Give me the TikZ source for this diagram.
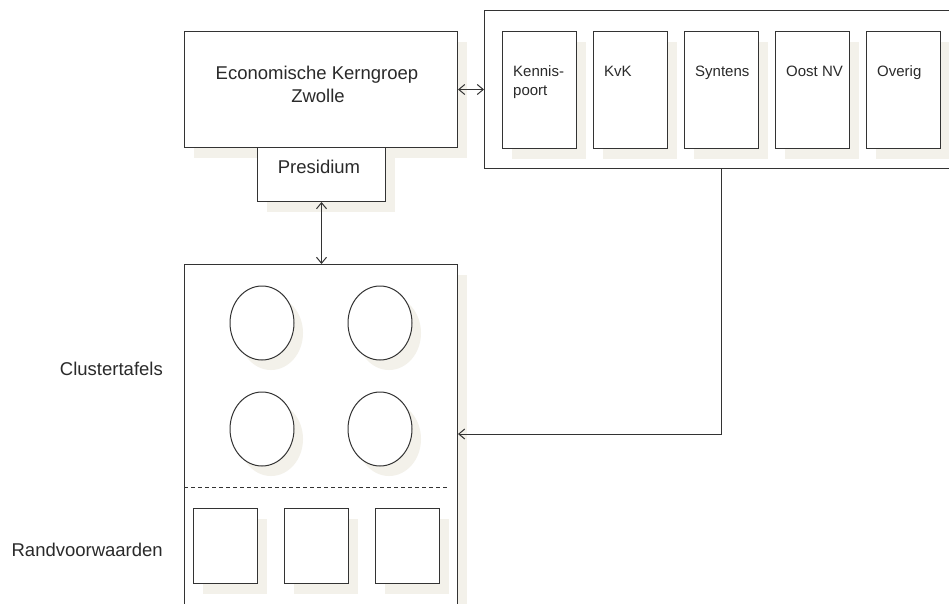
\documentclass[tikz,border=0pt]{standalone}
\usepackage{fontspec}
\setmainfont{Liberation Sans}
\usetikzlibrary{arrows.meta,shadows,shapes.geometric}
\definecolor{ln}{HTML}{333333}
\definecolor{shd}{HTML}{F3F1EA}
\definecolor{tx}{HTML}{2A2A2A}
\begin{document}
\begin{tikzpicture}[x=1pt,y=-1pt,
  shd/.style={drop shadow={shadow xshift=9pt, shadow yshift=-10pt, fill=shd, opacity=1, draw=none}},
  boxst/.style={draw=ln, line width=1pt, fill=white, rectangle, inner sep=0pt, anchor=north west},
  sbox/.style={boxst, shd},
  ell/.style={draw=ln, line width=1pt, fill=white, ellipse, inner sep=0pt, minimum width=64, minimum height=74, shd},
  big/.style={text=tx, font=\fontsize{18.5}{22}\selectfont, inner sep=0pt},
  small/.style={text=tx, font=\fontsize{15}{19}\selectfont, inner sep=0pt, anchor=base west},
  tip/.style={Straight Barb[length=6pt,width=10pt]},
  dbl/.style={draw=ln, line width=1pt, {Straight Barb[length=6pt,width=10pt]}-{Straight Barb[length=6pt,width=10pt]}},
  arr1/.style={draw=ln, line width=1pt, -{Straight Barb[length=6pt,width=10pt]}}
]
\useasboundingbox (0,0) rectangle (949,603);
\clip (0,0) rectangle (949,603);
\fill[white] (0,0) rectangle (949,603);

% top-left block
\node[sbox, minimum width=273, minimum height=116] (ekz) at (184,31) {};
\node[sbox, minimum width=128, minimum height=54] (pres) at (257,147) {};
\node[big, anchor=base] (t1) at (317,79) {Economische Kerngroep};
\node[big, anchor=base] (t2) at (318,102) {Zwolle};
\node[big, anchor=base] (t3) at (319,173) {Presidium};

% right panel
\node[boxst, minimum width=480, minimum height=158] (panel) at (484,10) {};
\foreach \x/\n in {502/a,593/b,684/c,775/d,866/e}{
  \node[sbox, minimum width=74, minimum height=117] (in\n) at (\x,31) {};
}
\node[small] (ka) at (513,76) {Kennis-};
\node[small] (kb) at (513,95) {poort};
\node[small] (kvk) at (604,76) {KvK};
\node[small] (syn) at (695,76) {Syntens};
\node[small] (oost) at (786,76) {Oost NV};
\node[small] (ov) at (877,76) {Overig};

% bottom panel
\node[sbox, minimum width=273, minimum height=360] (bot) at (184,264) {};
\node[ell] (e1) at (262,323) {};
\node[ell] (e2) at (380,323) {};
\node[ell] (e3) at (262,429) {};
\node[ell] (e4) at (380,429) {};
\draw[ln, line width=1pt, dash pattern=on 4pt off 3pt] (bot.west |- 0,487) -- (448,487);
\node[sbox, minimum width=64, minimum height=75] (s1) at (193,508) {};
\node[sbox, minimum width=64, minimum height=75] (s2) at (284,508) {};
\node[sbox, minimum width=64, minimum height=75] (s3) at (375,508) {};

\node[big, anchor=base east] (cl) at (163,375) {Clustertafels};
\node[big, anchor=base east] (rv) at (163,556) {Randvoorwaarden};

% connectors
\draw[dbl] (ekz.east) -- (panel.west |- ekz.east);
\draw[dbl] (pres.south) -- (pres.south |- bot.north);
\coordinate (turn) at (721,434);
\draw[arr1] (panel.south -| turn) -- (turn) -- (turn -| bot.east);
\end{tikzpicture}
\end{document}
